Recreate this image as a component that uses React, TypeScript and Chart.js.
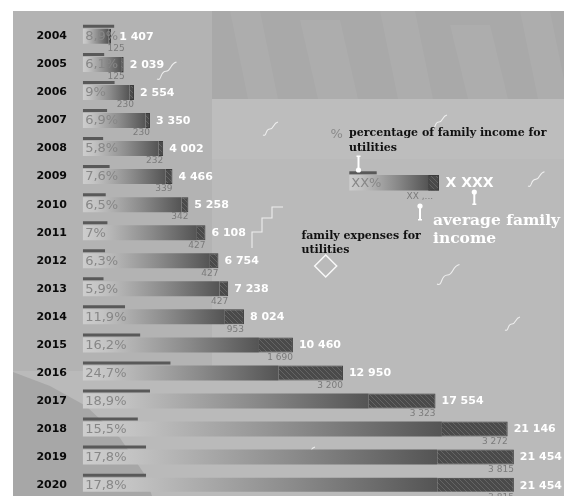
import React, { useEffect, useRef } from 'react';
import { Chart, registerables } from 'chart.js';

Chart.register(...registerables);

// ---- data ----
const years = ['2004', '2005', '2006', '2007', '2008', '2009', '2010', '2011', '2012', '2013', '2014', '2015', '2016', '2017', '2018', '2019', '2020'];
const pctOfIncome = [8.9, 6.1, 9, 6.9, 5.8, 7.6, 6.5, 7, 6.3, 5.9, 11.9, 16.2, 24.7, 18.9, 15.5, 17.8, 17.8];
const avgIncome = [1407, 2039, 2554, 3350, 4002, 4466, 5258, 6108, 6754, 7238, 8024, 10460, 12950, 17554, 21146, 21454, 21454];
const utilityExpenses = [125, 125, 230, 230, 232, 339, 342, 427, 427, 427, 953, 1690, 3200, 3323, 3272, 3815, 3815];
const incomeMinusExpenses = avgIncome.map((v, i) => v - utilityExpenses[i]);

const W = 564;
const H = 496;

function fmtThousands(v: number) {
  return String(v).replace(/\B(?=(\d{3})+(?!\d))/g, ' ');
}
function fmtPct(v: number) {
  return String(v).replace('.', ',') + '%';
}

function makeHatch(ctx: CanvasRenderingContext2D): CanvasPattern | string {
  const c = document.createElement('canvas');
  c.width = 5;
  c.height = 5;
  const g = c.getContext('2d');
  if (!g) return '#4e4e4e';
  g.fillStyle = '#4a4a4a';
  g.fillRect(0, 0, 5, 5);
  g.strokeStyle = '#646464';
  g.lineWidth = 1;
  g.beginPath();
  g.moveTo(-1, -1); g.lineTo(6, 6);
  g.moveTo(-1, 4); g.lineTo(1, 6);
  g.moveTo(4, -1); g.lineTo(6, 1);
  g.stroke();
  return ctx.createPattern(c, 'repeat') || '#4e4e4e';
}

function barGradient(ctx: CanvasRenderingContext2D, x0: number, x1: number) {
  const g = ctx.createLinearGradient(x0, 0, x1, 0);
  g.addColorStop(0, '#cdcdcd');
  g.addColorStop(0.14, '#c3c3c3');
  g.addColorStop(0.6, '#8a8a8a');
  g.addColorStop(1, '#545454');
  return g;
}

function squiggle(c: CanvasRenderingContext2D, x: number, y: number, s: number) {
  c.beginPath();
  c.moveTo(x, y);
  c.bezierCurveTo(x + 4 * s, y + 2 * s, x + 2 * s, y - 6 * s, x + 7 * s, y - 6 * s);
  c.bezierCurveTo(x + 11 * s, y - 6 * s, x + 10 * s, y - 12 * s, x + 15 * s, y - 13 * s);
  c.stroke();
}

const bgPlugin = {
  id: 'bgPlugin',
  beforeDraw(chart: any) {
    const c: CanvasRenderingContext2D = chart.ctx;
    const w = chart.width;
    const h = chart.height;
    c.save();
    c.fillStyle = '#ffffff';
    c.fillRect(0, 0, w, h);
    c.fillStyle = '#bababa';
    c.fillRect(13, 11, w - 13, h - 11);
    c.fillStyle = '#b3b3b3';
    c.fillRect(13, 11, 199, 360);
    c.fillStyle = '#a9a9a9';
    c.fillRect(212, 11, w - 212, 88);
    // subtle textured panes in the top band
    c.fillStyle = 'rgba(255,255,255,0.05)';
    const panes = [[230, 11, 30], [300, 20, 40], [380, 11, 35], [450, 25, 40], [520, 11, 30]];
    panes.forEach(([px, py, pw]) => {
      c.beginPath();
      c.moveTo(px, py);
      c.lineTo(px + pw, py);
      c.lineTo(px + pw + 18, 99);
      c.lineTo(px + 18, 99);
      c.closePath();
      c.fill();
    });
    c.fillStyle = '#bdbdbd';
    c.fillRect(212, 99, w - 212, 60);
    // darker shape bottom-left
    c.fillStyle = '#a7a7a7';
    c.beginPath();
    c.moveTo(13, 372);
    c.lineTo(50, 386);
    c.lineTo(86, 406);
    c.lineTo(120, 438);
    c.lineTo(145, 475);
    c.lineTo(152, h);
    c.lineTo(13, h);
    c.closePath();
    c.fill();
    // decorative squiggles
    c.strokeStyle = 'rgba(255,255,255,0.75)';
    c.lineWidth = 1.1;
    squiggle(c, 157, 79, 1.3);
    squiggle(c, 263, 135, 1.0);
    squiggle(c, 432, 128, 1.0);
    squiggle(c, 528, 186, 1.1);
    squiggle(c, 437, 284, 1.5);
    squiggle(c, 300, 460, 1.0);
    squiggle(c, 505, 330, 1.0);
    // stair line
    c.beginPath();
    c.moveTo(252, 248);
    c.lineTo(252, 232);
    c.lineTo(262, 232);
    c.lineTo(262, 218);
    c.lineTo(272, 218);
    c.lineTo(272, 207);
    c.lineTo(283, 207);
    c.stroke();
    c.restore();
  },
};

const labelPlugin = {
  id: 'labelPlugin',
  afterDatasetsDraw(chart: any) {
    const c: CanvasRenderingContext2D = chart.ctx;
    const metaTop = chart.getDatasetMeta(2);
    const x0 = chart.scales.x.getPixelForValue(0);
    c.save();
    metaTop.data.forEach((el: any, i: number) => {
      const { x, y } = el.getProps(['x', 'y'], true);
      // percentage label inside bar
      c.font = '13px "DejaVu Sans"';
      c.fillStyle = '#878787';
      c.textAlign = 'left';
      c.textBaseline = 'middle';
      const pctText = fmtPct(pctOfIncome[i]);
      c.fillText(pctText, x0 + 2.5, y + 0.5);
      const pctRight = x0 + 2.5 + c.measureText(pctText).width;
      // income label
      c.font = 'bold 11px "DejaVu Sans"';
      c.fillStyle = '#ffffff';
      const incText = fmtThousands(avgIncome[i]);
      const iw = c.measureText(incText).width;
      let lx = Math.max(x + 6, pctRight + 1);
      lx = Math.min(lx, chart.width - iw - 2);
      c.fillText(incText, lx, y + 0.5);
      // expense label below bar end
      c.font = '9px "DejaVu Sans"';
      c.fillStyle = '#7b7b7b';
      c.textAlign = 'right';
      c.textBaseline = 'top';
      c.fillText(fmtThousands(utilityExpenses[i]), Math.max(x, x0 + 42), y + 8);
    });

    // ---- explanatory legend ----
    const serif = '"DejaVu Serif"';
    c.textAlign = 'left';
    c.textBaseline = 'middle';
    c.font = '13px "DejaVu Sans"';
    c.fillStyle = '#8a8a8a';
    c.fillText('%', 330.5, 134.5);
    c.font = 'bold 11px ' + serif;
    c.fillStyle = '#111111';
    c.fillText('percentage of family income for', 349, 133.5);
    c.fillText('utilities', 349, 148);
    c.fillText('family expenses for', 301.5, 236);
    c.fillText('utilities', 301.5, 250.5);

    // sample bar
    const bx = 349.3;
    const by = 175;
    const bw = 89.7;
    const hw = 10.7;
    c.fillStyle = '#595959';
    c.fillRect(bx, 171.3, 27.4, 3);
    c.fillStyle = barGradient(c, bx, bx + bw - hw);
    c.fillRect(bx, by, bw - hw, 15.5);
    c.fillStyle = makeHatch(c);
    c.fillRect(bx + bw - hw, by, hw, 15.5);
    c.strokeStyle = '#3c3c3c';
    c.lineWidth = 1;
    c.strokeRect(bx + bw - hw + 0.5, by + 0.5, hw - 1, 14.5);
    c.font = '13px "DejaVu Sans"';
    c.fillStyle = '#878787';
    c.fillText('XX%', bx + 2, by + 8.5);
    c.font = 'bold 14px "DejaVu Sans"';
    c.fillStyle = '#ffffff';
    c.fillText('X XXX', 445.5, 183.5);
    c.font = '9px "DejaVu Sans"';
    c.fillStyle = '#7b7b7b';
    c.textBaseline = 'top';
    c.fillText('XX ,...', 406.5, 192);
    c.textBaseline = 'middle';

    // pins
    c.strokeStyle = '#ffffff';
    c.fillStyle = '#ffffff';
    c.lineWidth = 2;
    const pin = (px: number, yTop: number, yBot: number, dotTop: boolean) => {
      c.beginPath();
      c.moveTo(px, yTop);
      c.lineTo(px, yBot);
      c.stroke();
      c.beginPath();
      c.arc(px, dotTop ? yTop : yBot, 2.6, 0, Math.PI * 2);
      c.fill();
      c.fillRect(px - 2, dotTop ? yBot - 1 : yTop - 1, 4, 1.5);
    };
    pin(358.5, 156.5, 170, false);
    pin(420, 206, 220, true);
    pin(474.3, 192, 204.5, true);

    c.font = 'bold 15.5px ' + serif;
    c.fillStyle = '#ffffff';
    c.fillText('average family', 433, 221);
    c.fillText('income', 433, 238.5);

    // diamond
    c.strokeStyle = 'rgba(255,255,255,0.9)';
    c.lineWidth = 1.5;
    c.beginPath();
    c.moveTo(325.7, 255);
    c.lineTo(336.7, 266);
    c.lineTo(325.7, 277);
    c.lineTo(314.7, 266);
    c.closePath();
    c.stroke();
    c.restore();
  },
};

export default function App() {
  const ref = useRef<HTMLCanvasElement>(null);
  useEffect(() => {
    const canvas = ref.current;
    if (!canvas) return;
    const ctx = canvas.getContext('2d');
    if (!ctx) return;
    const hatch = makeHatch(ctx);
    const chart = new Chart(ctx, {
      type: 'bar',
      data: {
        labels: years,
        datasets: [
          {
            label: 'percentage of family income for utilities',
            data: pctOfIncome,
            xAxisID: 'x2',
            stack: 'pct',
            barThickness: 5,
            backgroundColor: '#595959',
            borderColor: 'rgba(0,0,0,0)',
            borderWidth: { top: 1, bottom: 1, left: 0, right: 0 },
            inflateAmount: 0,
          } as any,
          {
            label: 'average family income',
            data: incomeMinusExpenses,
            xAxisID: 'x',
            stack: 'main',
            barThickness: 15,
            inflateAmount: 0,
            backgroundColor: (context: any) => {
              const ch = context.chart;
              if (!ch.chartArea || !ch.scales || !ch.scales.x) return '#8b8b8b';
              const xs = ch.scales.x;
              const a = xs.getPixelForValue(0);
              const b = xs.getPixelForValue(Number(context.raw) || 0);
              if (!isFinite(a) || !isFinite(b) || b - a < 1) return '#8b8b8b';
              return barGradient(ch.ctx, a, b);
            },
          } as any,
          {
            label: 'family expenses for utilities',
            data: utilityExpenses,
            xAxisID: 'x',
            stack: 'main',
            barThickness: 15,
            inflateAmount: 0,
            backgroundColor: hatch,
            borderColor: '#3c3c3c',
            borderWidth: 1,
            borderSkipped: 'start',
          } as any,
        ],
      },
      options: {
        indexAxis: 'y',
        animation: false,
        responsive: false,
        maintainAspectRatio: false,
        devicePixelRatio: 1,
        layout: { padding: { left: 0, right: 4, top: 14.8, bottom: 4.3 } },
        plugins: {
          legend: { display: false },
          tooltip: { enabled: false },
        },
        scales: {
          x: { type: 'linear', display: false, min: 0, max: 23750, stacked: true },
          x2: { type: 'linear', display: false, min: 0, max: 134 },
          y: {
            type: 'category',
            stacked: true,
            position: 'left',
            grid: { display: false, drawTicks: false },
            border: { display: false },
            ticks: {
              color: '#0a0a0a',
              font: { family: '"DejaVu Sans"', weight: 'bold', size: 11 },
              padding: 15.7,
              labelOffset: 7.5,
            },
            afterFit: (scale: any) => {
              scale.width = 82.7;
              scale.paddingTop = 0;
              scale.paddingBottom = 0;
            },
          },
        },
      } as any,
      plugins: [bgPlugin, labelPlugin],
    });
    return () => chart.destroy();
  }, []);
  return (
    <div style={{ position: 'fixed', left: 0, top: 0, width: W, height: H, overflow: 'hidden' }}>
      <canvas ref={ref} width={W} height={H} style={{ display: 'block', width: W, height: H }} />
    </div>
  );
}
